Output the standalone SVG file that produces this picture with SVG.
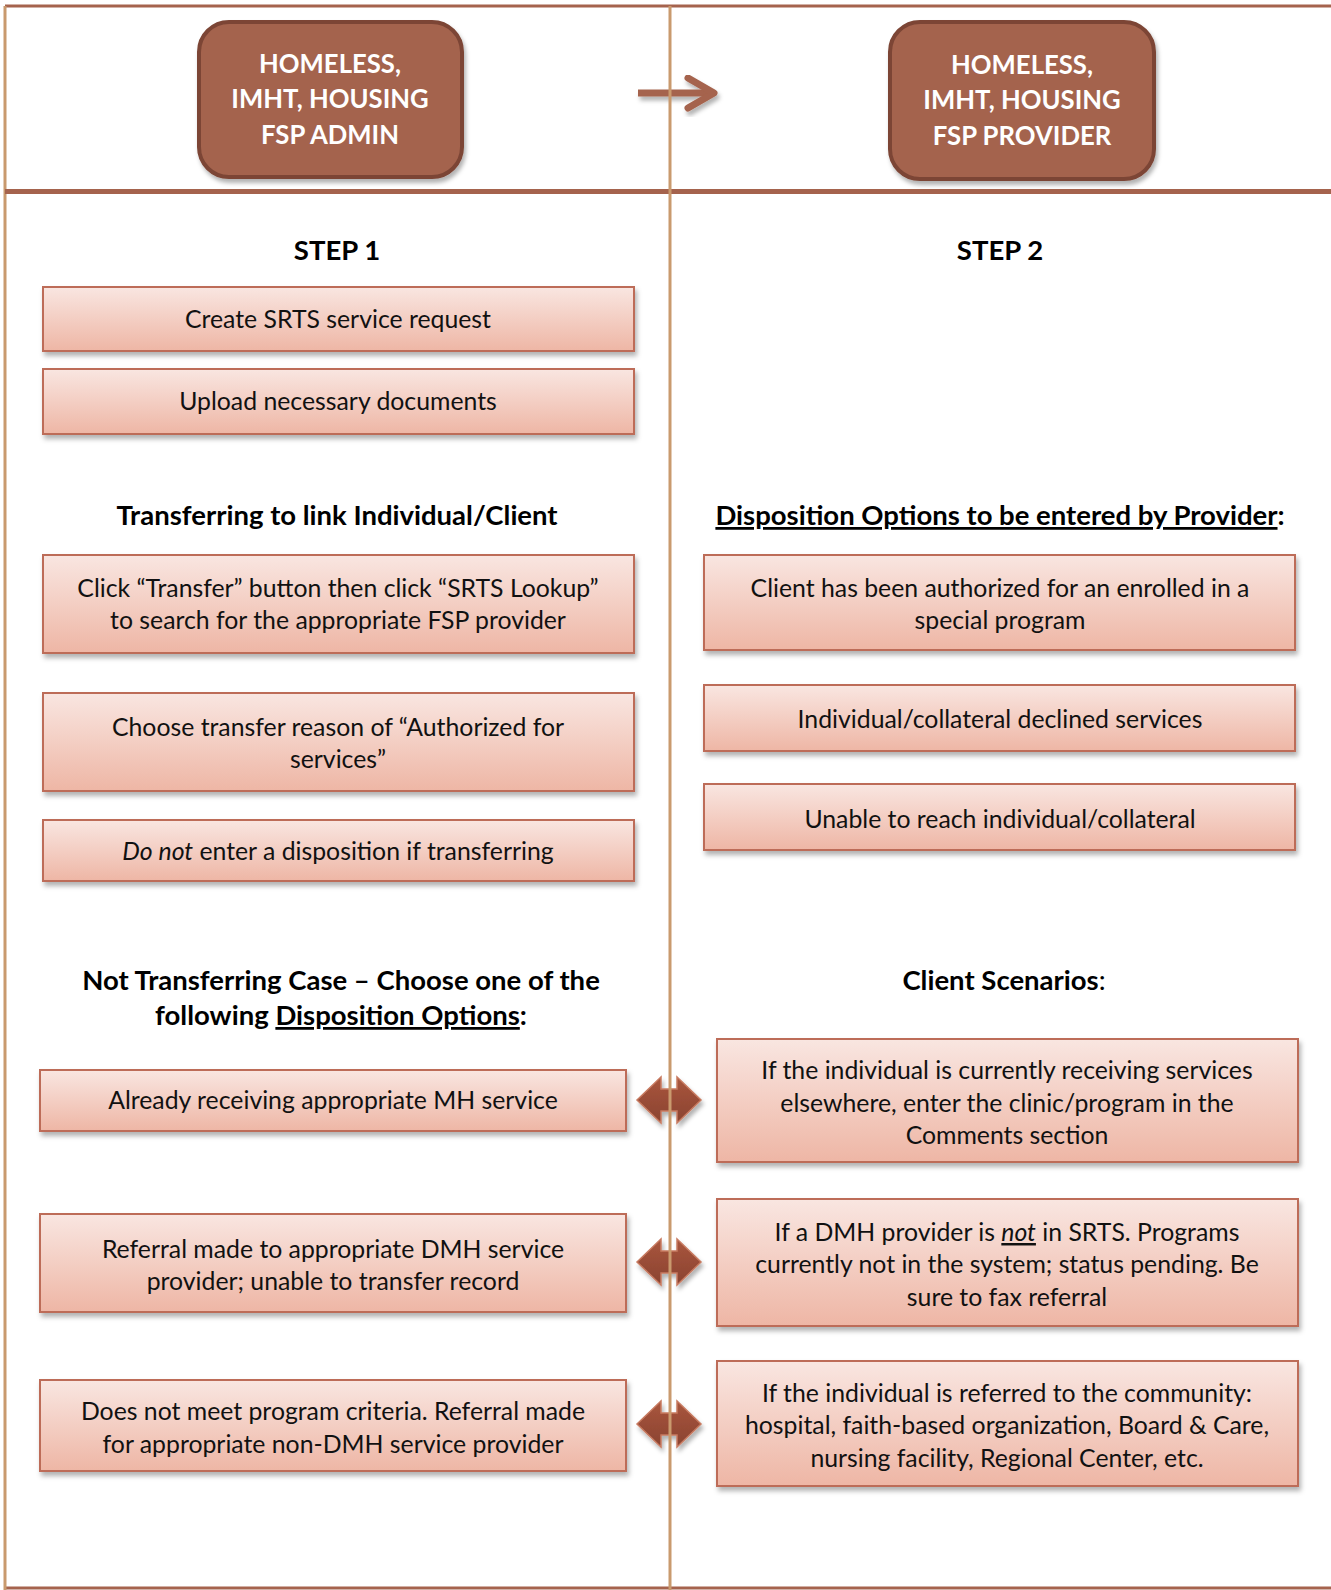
<svg xmlns="http://www.w3.org/2000/svg" width="1331" height="1590" viewBox="0 0 1331 1590">
<defs>
<linearGradient id="boxg" x1="0" y1="0" x2="0" y2="1">
<stop offset="0" stop-color="#f9e6e1"/>
<stop offset="1" stop-color="#eeb6a5"/>
</linearGradient>
<linearGradient id="arrg" x1="0" y1="0" x2="0" y2="1">
<stop offset="0" stop-color="#a9563d"/>
<stop offset="1" stop-color="#8a4331"/>
</linearGradient>
<filter id="sh" x="-5%" y="-10%" width="112%" height="135%">
<feDropShadow dx="2" dy="4" stdDeviation="2.5" flood-color="#000" flood-opacity="0.3"/>
</filter>
<filter id="sh2" x="-10%" y="-10%" width="125%" height="140%">
<feDropShadow dx="2" dy="4" stdDeviation="2" flood-color="#000" flood-opacity="0.3"/>
</filter>
</defs>
<style>
.box{fill:url(#boxg);stroke:#bd6c58;stroke-width:2;filter:url(#sh)}
.hdr{fill:#a4634d;stroke:#7b4535;stroke-width:4;filter:url(#sh2)}
.t{font-family:Lato,"Liberation Sans",sans-serif;font-size:24.8px;fill:#111;text-anchor:middle}
.h{font-family:Lato,"Liberation Sans",sans-serif;font-size:27.5px;font-weight:bold;fill:#000;text-anchor:middle}
.ht{font-family:Lato,"Liberation Sans",sans-serif;font-size:25.7px;font-weight:bold;fill:#fff;text-anchor:middle}
.dbl{fill:url(#arrg);stroke:#c77a60;stroke-width:1.5;filter:url(#sh2)}
</style>
<rect width="1331" height="1590" fill="#fff"/>
<g id="frame">
<line x1="5" y1="6" x2="1331" y2="6" stroke="#a5634d" stroke-width="3"/>
<line x1="5" y1="1588" x2="1331" y2="1588" stroke="#a5634d" stroke-width="3"/>
<line x1="5" y1="6" x2="5" y2="1590" stroke="#c99a6e" stroke-width="3"/>
<line x1="5" y1="191.5" x2="1331" y2="191.5" stroke="#a5634d" stroke-width="5"/>
</g>
<g id="connectors">
<g filter="url(#sh2)" stroke="#a5634d" stroke-width="7" fill="none" stroke-linecap="round" stroke-linejoin="round">
<line x1="638" y1="93" x2="713" y2="93" stroke-linecap="butt"/>
<polyline points="688,78 714,93 688,108"/>
</g>
<polygon class="dbl" points="637,1100 661,1077 661,1089 677,1089 677,1077 701,1100 677,1123 677,1111 661,1111 661,1123"/>
<polygon class="dbl" points="637,1262 661,1239 661,1251 677,1251 677,1239 701,1262 677,1285 677,1273 661,1273 661,1285"/>
<polygon class="dbl" points="637,1424 661,1401 661,1413 677,1413 677,1401 701,1424 677,1447 677,1435 661,1435 661,1447"/>
</g>
<line id="divider" x1="670" y1="6" x2="670" y2="1590" stroke="#c99a6e" stroke-width="3"/>
<g id="admin">
<rect class="hdr" x="199" y="22" width="263" height="155" rx="30"/>
<text class="ht" x="330" y="73">HOMELESS,</text>
<text class="ht" x="330" y="108">IMHT, HOUSING</text>
<text class="ht" x="330" y="144">FSP ADMIN</text>
</g>
<g id="provider">
<rect class="hdr" x="890" y="22" width="264" height="157" rx="30"/>
<text class="ht" x="1022" y="74">HOMELESS,</text>
<text class="ht" x="1022" y="109">IMHT, HOUSING</text>
<text class="ht" x="1022" y="145">FSP PROVIDER</text>
</g>
<g id="labels">
<text class="h" x="337" y="260">STEP 1</text>
<text class="h" x="1000" y="260">STEP 2</text>
<text class="h" x="337" y="525">Transferring to link Individual/Client</text>
<text class="h" x="1000" y="525"><tspan text-decoration="underline">Disposition Options to be entered by Provider</tspan>:</text>
<text class="h" x="341" y="990">Not Transferring Case – Choose one of the</text>
<text class="h" x="341" y="1025">following <tspan text-decoration="underline">Disposition Options</tspan>:</text>
<text class="h" x="1004" y="990">Client Scenarios<tspan font-weight="normal">:</tspan></text>
</g>
<g id="n1">
<rect class="box" x="43" y="287" width="591" height="64"/>
<text class="t" x="338" y="328">Create SRTS service request</text>
</g>
<g id="n2">
<rect class="box" x="43" y="369" width="591" height="65"/>
<text class="t" x="338" y="410">Upload necessary documents</text>
</g>
<g id="n3">
<rect class="box" x="43" y="555" width="591" height="98"/>
<text class="t" x="338" y="597">Click “Transfer” button then click “SRTS Lookup”</text>
<text class="t" x="338" y="629">to search for the appropriate FSP provider</text>
</g>
<g id="n4">
<rect class="box" x="43" y="693" width="591" height="98"/>
<text class="t" x="338" y="736">Choose transfer reason of “Authorized for</text>
<text class="t" x="338" y="768">services”</text>
</g>
<g id="n5">
<rect class="box" x="43" y="820" width="591" height="61"/>
<text class="t" x="338" y="860"><tspan font-style="italic">Do not</tspan> enter a disposition if transferring</text>
</g>
<g id="n6">
<rect class="box" x="704" y="555" width="591" height="95"/>
<text class="t" x="1000" y="597">Client has been authorized for an enrolled in a</text>
<text class="t" x="1000" y="629">special program</text>
</g>
<g id="n7">
<rect class="box" x="704" y="685" width="591" height="66"/>
<text class="t" x="1000" y="728">Individual/collateral declined services</text>
</g>
<g id="n8">
<rect class="box" x="704" y="784" width="591" height="66"/>
<text class="t" x="1000" y="828">Unable to reach individual/collateral</text>
</g>
<g id="n9">
<rect class="box" x="40" y="1070" width="586" height="61"/>
<text class="t" x="333" y="1109">Already receiving appropriate MH service</text>
</g>
<g id="n10">
<rect class="box" x="40" y="1214" width="586" height="98"/>
<text class="t" x="333" y="1258">Referral made to appropriate DMH service</text>
<text class="t" x="333" y="1290">provider; unable to transfer record</text>
</g>
<g id="n11">
<rect class="box" x="40" y="1380" width="586" height="91"/>
<text class="t" x="333" y="1420">Does not meet program criteria. Referral made</text>
<text class="t" x="333" y="1453">for appropriate non-DMH service provider</text>
</g>
<g id="n12">
<rect class="box" x="717" y="1039" width="581" height="123"/>
<text class="t" x="1007" y="1079">If the individual is currently receiving services</text>
<text class="t" x="1007" y="1112">elsewhere, enter the clinic/program in the</text>
<text class="t" x="1007" y="1144">Comments section</text>
</g>
<g id="n13">
<rect class="box" x="717" y="1199" width="581" height="127"/>
<text class="t" x="1007" y="1241">If a DMH provider is <tspan font-style="italic" text-decoration="underline">not</tspan> in SRTS. Programs</text>
<text class="t" x="1007" y="1273">currently not in the system; status pending. Be</text>
<text class="t" x="1007" y="1306">sure to fax referral</text>
</g>
<g id="n14">
<rect class="box" x="717" y="1361" width="581" height="125"/>
<text class="t" x="1007" y="1402">If the individual is referred to the community:</text>
<text class="t" x="1007" y="1434">hospital, faith-based organization, Board &amp; Care,</text>
<text class="t" x="1007" y="1467">nursing facility, Regional Center, etc.</text>
</g>
</svg>
